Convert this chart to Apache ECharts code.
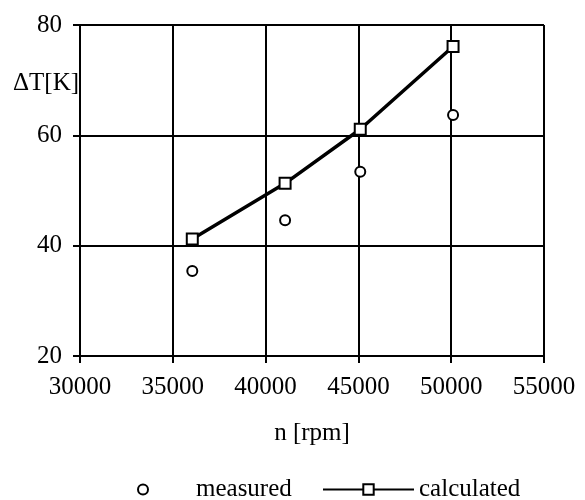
<!DOCTYPE html>
<html>
<head>
<meta charset="utf-8">
<script src="https://cdn.jsdelivr.net/npm/echarts@6/dist/echarts.min.js"></script>
<style>
	html, body { margin: 0; padding: 0; background: #fff; }
	#chart { width: 585px; height: 500px; }
</style>
</head>
<body>
<div id="chart"></div>
<script>
	// speed n [rpm] of each run
	const speeds = [36050, 41050, 45100, 50100];
	// temperature rise ΔT [K]
	const measured = [35.4, 44.6, 53.4, 63.7];
	const calculated = [41.2, 51.3, 61.1, 76.1];

	const xTicks = { min: 30000, max: 55000, step: 5000 };
	const yTicks = { min: 20, max: 80, step: 20 };

	const fontFamily = '"Liberation Serif", "Times New Roman", serif';
	const fontSize = 25;
	const ink = '#000';

	function pairs(xs, ys) {
		let out = [];
		for (let i = 0; i < xs.length; i++) {
			out.push([xs[i], ys[i]]);
		}
		return out;
	}

	const lineW = {
		show: true,
		lineStyle: { color: ink, width: 2, type: 'solid' }
	};

	const myChart = echarts.init(document.getElementById('chart'));
	const option = {
		backgroundColor: '#fff',
		animation: false,
		textStyle: { fontFamily: fontFamily, color: ink },
		grid: {
			left: 80,
			top: 25,
			right: 41,
			bottom: 144,
			outerBoundsMode: 'none'
		},
		graphic: [{
			type: 'text',
			left: 13,
			top: 71,
			style: {
				text: 'ΔT[K]',
				font: fontSize + 'px ' + fontFamily,
				fill: ink
			}
		}],
		legend: [{
			data: ['measured'],
			left: 137,
			top: 477,
			padding: 0,
			itemWidth: 96,
			itemHeight: 10,
			textStyle: { fontFamily: fontFamily, fontSize: fontSize, color: ink }
		}, {
			data: ['calculated'],
			left: 322,
			top: 477,
			padding: 0,
			itemWidth: 91,
			itemHeight: 13,
			lineStyle: { width: 2 },
			textStyle: { fontFamily: fontFamily, fontSize: fontSize, color: ink }
		}],
		xAxis: {
			type: 'value',
			min: xTicks.min,
			max: xTicks.max,
			interval: xTicks.step,
			name: 'n [rpm]',
			nameLocation: 'middle',
			nameGap: 65,
			nameTextStyle: { fontFamily: fontFamily, fontSize: fontSize, color: ink },
			axisLine: { show: true, lineStyle: { color: ink, width: 2 } },
			axisTick: { show: true, inside: false, length: 7, lineStyle: { color: ink, width: 2 } },
			axisLabel: {
				margin: 19,
				fontFamily: fontFamily,
				fontSize: fontSize,
				color: ink,
				formatter: v => String(v)
			},
			splitLine: lineW
		},
		yAxis: {
			type: 'value',
			min: yTicks.min,
			max: yTicks.max,
			interval: yTicks.step,
			axisLine: { show: true, lineStyle: { color: ink, width: 2 } },
			axisTick: { show: true, inside: false, length: 7, lineStyle: { color: ink, width: 2 } },
			axisLabel: {
				margin: 18,
				fontFamily: fontFamily,
				fontSize: fontSize,
				color: ink,
				formatter: v => String(v)
			},
			splitLine: lineW
		},
		series: [{
			name: 'measured',
			type: 'scatter',
			symbol: 'emptyCircle',
			symbolSize: 10,
			itemStyle: { color: ink, borderColor: ink, borderWidth: 2.2, opacity: 1 },
			data: pairs(speeds, measured),
			z: 5
		}, {
			name: 'calculated',
			type: 'line',
			symbol: 'emptyRect',
			symbolSize: 11,
			showSymbol: true,
			lineStyle: { color: ink, width: 3.5 },
			itemStyle: { color: ink, borderColor: ink, borderWidth: 2 },
			data: pairs(speeds, calculated),
			z: 5
		}]
	};
	myChart.setOption(option);
</script>
</body>
</html>
